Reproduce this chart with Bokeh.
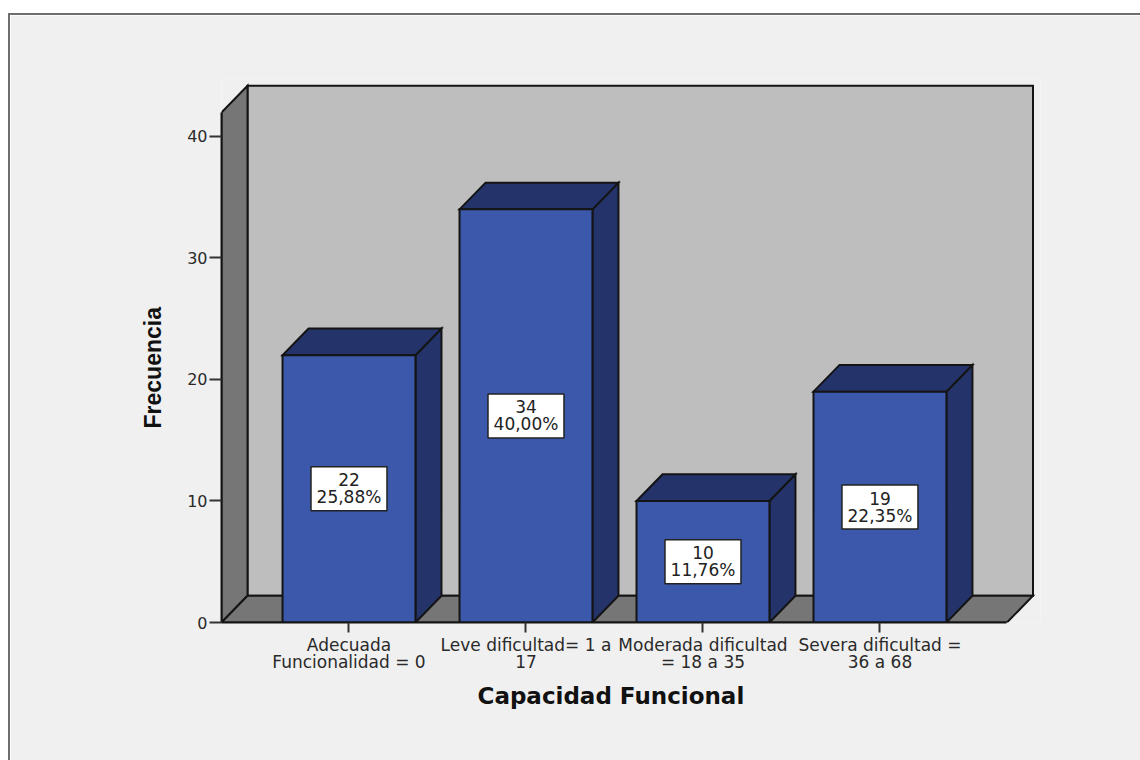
from bokeh.core.properties import value
from bokeh.embed import file_html
from bokeh.models import FixedTicker, Range1d, Title
from bokeh.plotting import figure
from bokeh.resources import INLINE

categories = [
    "Adecuada\nFuncionalidad = 0",
    "Leve dificultad= 1 a\n17",
    "Moderada dificultad\n= 18 a 35",
    "Severa dificultad =\n36 a 68",
]
frequencies = [22, 34, 10, 19]
percents = ["25,88%", "40,00%", "11,76%", "22,35%"]
y_ticks = [0, 10, 20, 30, 40]

# Extruded-box geometry, in axis units
BAR_W = 0.751
DX = 0.147
DY = 2.2
X0, X1 = -0.7203, 3.7175
Y_TOP = 41.97

FONT = "DejaVu Sans"
INK = "#141414"
PANEL = "#F0F0F0"
FRONT = "#3C58AA"
SHADE = "#24346B"
WALL = "#BEBEBE"
SIDE = "#767676"

p = figure(
    width=1130, height=745, output_backend="svg", toolbar_location=None,
    margin=(15, 0, 0, 10), styles={"outline": "2px solid #6E6E6E"},
    x_range=Range1d(X0, 3.907), y_range=Range1d(0, 44.77),
    min_border_left=211, min_border_right=100, min_border_top=63, min_border_bottom=138,
    border_fill_color=PANEL, background_fill_color=PANEL, outline_line_color=None,
)
p.grid.visible = False

# Box walls and floor
wall_style = dict(line_color=INK, line_width=2, line_join="miter")
p.patch([X0 + DX, X1 + DX, X1 + DX, X0 + DX], [DY, DY, Y_TOP + DY, Y_TOP + DY], fill_color=WALL, **wall_style)
p.patch([X0, X0 + DX, X0 + DX, X0], [0, DY, Y_TOP + DY, Y_TOP], fill_color=SIDE, **wall_style)
p.patch([X0, X0 + DX, X1 + DX, X1], [0, DY, DY, 0], fill_color=SIDE, **wall_style)

# Bars: side, top and front faces, then a value box on the front
for i, f in enumerate(frequencies):
    l, r = i - BAR_W / 2, i + BAR_W / 2
    p.patch([r, r + DX, r + DX, r], [0, DY, f + DY, f], fill_color=SHADE, **wall_style)
    p.patch([l, l + DX, r + DX, r], [f, f + DY, f + DY, f], fill_color=SHADE, **wall_style)
    p.patch([l, r, r, l], [0, 0, f, f], fill_color=FRONT, **wall_style)

mid = [f / 2 for f in frequencies]
xs = list(range(len(frequencies)))
p.rect(xs, mid, width=76, height=44, width_units="screen", height_units="screen",
       fill_color="white", line_color="#222222", line_width=1.5)
p.text(xs, mid, text=[f"{f}\n{s}" for f, s in zip(frequencies, percents)],
       text_font=value(FONT), text_font_size="17px", text_color="#222222",
       text_align="center", text_baseline="middle", text_line_height=0.85)

# Axes
ax = p.xaxis[0]
ax.bounds = (X0, X1)
ax.ticker = FixedTicker(ticks=xs)
ax.major_label_overrides = {i: c for i, c in enumerate(categories)}

ay = p.yaxis[0]
ay.bounds = (0, Y_TOP)
ay.ticker = FixedTicker(ticks=y_ticks)

for axis in (ax, ay):
    axis.axis_line_color = INK
    axis.axis_line_width = 2
    axis.major_tick_line_color = "#333333"
    axis.major_tick_line_width = 2
    axis.major_tick_in = 0
    axis.minor_tick_line_color = None
    axis.major_label_text_font = FONT
    axis.major_label_text_color = "#2A2A2A"
ax.major_label_text_line_height = 0.85
ax.major_label_text_font_size = "17px"
ay.major_label_text_font_size = "16px"
ax.major_tick_out = 10
ax.major_label_standoff = 2
ay.major_tick_out = 12
ay.major_label_standoff = 2

# Axis titles, offset from the frame corner so they centre on the bounded axes
p.add_layout(Title(text="Capacidad Funcional", align="left", offset=256, vertical_align="middle",
                   standoff=14, text_font=FONT, text_font_size="23px", text_font_style="bold",
                   text_color="#111111"), "below")
p.add_layout(Title(text="Frecuencia", align="left", offset=194, vertical_align="middle",
                   standoff=36, text_font="Liberation Sans", text_font_size="23px",
                   text_font_style="bold", text_color="#111111"), "left")

open("out.html", "w").write(file_html(p, INLINE))
